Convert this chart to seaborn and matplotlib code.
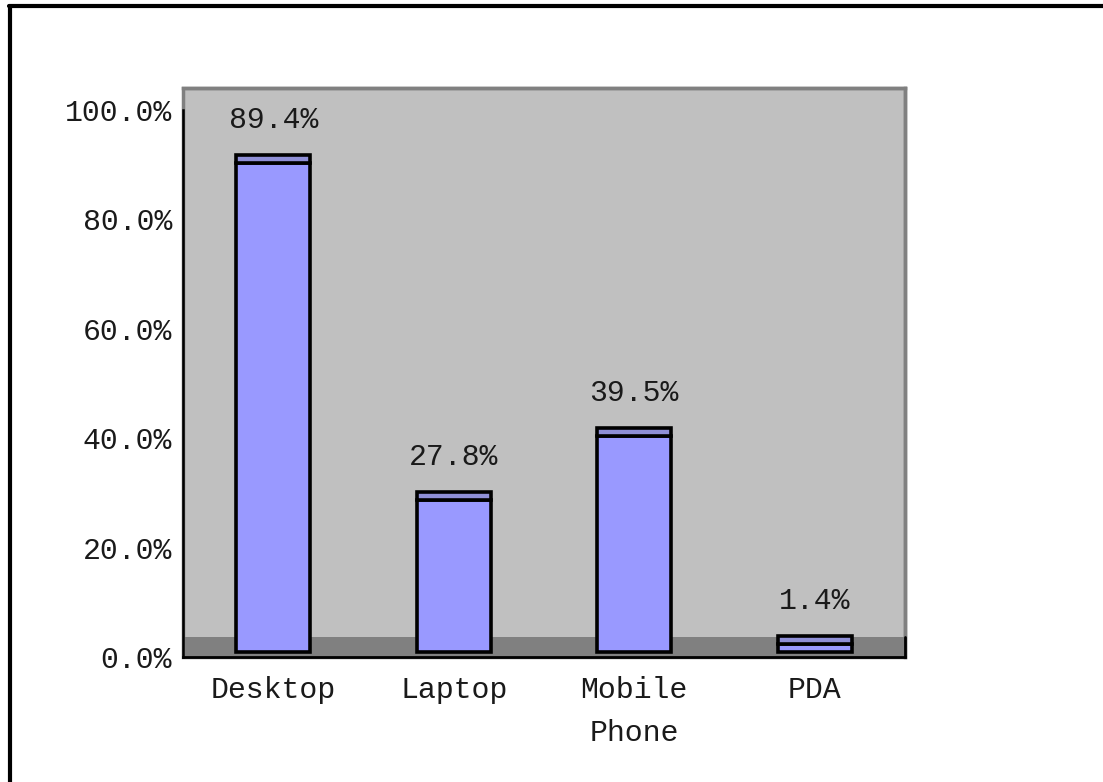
import matplotlib
matplotlib.use("Agg")
import matplotlib.pyplot as plt
from matplotlib.patches import Rectangle
from matplotlib.lines import Line2D
from matplotlib.transforms import ScaledTranslation
import seaborn as sns
import pandas as pd

# Share of respondents using each device type
devices = ["Desktop", "Laptop", "Mobile\nPhone", "PDA"]
shares = [89.4, 27.8, 39.5, 1.4]
y_ticks = [0, 20, 40, 60, 80, 100]
y_tick_labels = ["0.0%", "20.0%", "40.0%", "60.0%", "80.0%", "100.0%"]

sns.set_style("white")
plt.rcParams["font.family"] = ["Liberation Mono", "DejaVu Sans Mono"]

WALL = "#C0C0C0"
FLOOR = "#808080"
BAR = "#9999FF"
CAP = "#8F8FD6"
TEXT = "#1a1a1a"
FLOOR_DEPTH = 3.6
CAP_DEPTH = 1.5
FS = 21.5

df = pd.DataFrame({"device": devices, "share": shares})

fig = plt.figure(figsize=(11.03, 7.82), dpi=100)
ax = fig.add_axes([183 / 1103, 1 - 657 / 782, 722 / 1103, 569 / 782])
ax.set_facecolor(WALL)

sns.barplot(data=df, x="device", y="share", ax=ax, color=BAR, width=0.41,
            edgecolor="black", linewidth=2.6, saturation=1, zorder=2)
bars = list(ax.containers[0].patches)

# Floor band along the bottom of the wall
ax.axhspan(0, FLOOR_DEPTH, color=FLOOR, zorder=0.5, lw=0)

# Lift bars slightly so they sit in the middle of the floor depth
lift = ScaledTranslation(0, 5 / 100, fig.dpi_scale_trans)
for p, val in zip(bars, shares):
    p.set_transform(ax.transData + lift)
    cap = Rectangle((p.get_x(), val), p.get_width(), CAP_DEPTH,
                    facecolor=CAP, edgecolor="black", linewidth=2.6,
                    transform=ax.transData + lift, zorder=3)
    ax.add_patch(cap)
    ax.annotate(f"{val:.1f}%", (p.get_x() + p.get_width() / 2, val + CAP_DEPTH),
                xycoords=ax.transData + lift, xytext=(0, 25),
                textcoords="offset points", ha="center", va="center",
                fontsize=FS, color=TEXT, zorder=4)

ax.set_xlim(-0.5, 3.5)
ax.set_ylim(0, 104)
ax.set_yticks(y_ticks)
ax.set_yticklabels(y_tick_labels)
ax.set_xlabel("")
ax.set_ylabel("")
ax.grid(False)

ax.tick_params(axis="y", direction="in", length=6, width=1.5, color="black",
               labelsize=FS, pad=8, labelcolor=TEXT)
ax.tick_params(axis="x", which="major", length=0, labelsize=FS, pad=14,
               labelcolor=TEXT)
ax.set_xticks([0.5, 1.5, 2.5], minor=True)
ax.tick_params(axis="x", which="minor", direction="in", length=7, width=1.5,
               color="black")
for lbl in ax.get_xticklabels():
    lbl.set_linespacing(1.65)

for side in ["top", "right"]:
    ax.spines[side].set_color(FLOOR)
    ax.spines[side].set_linewidth(2.5)
ax.spines["left"].set_color("black")
ax.spines["left"].set_linewidth(1.8)
ax.spines["left"].set_bounds(0, 100)
ax.spines["bottom"].set_color("black")
ax.spines["bottom"].set_linewidth(2)

# Grey outline of the wall above the value axis
ax.add_patch(Rectangle((0, 0), 1, 1, transform=ax.transAxes, fill=False,
                       edgecolor=FLOOR, linewidth=2.5, zorder=0.6,
                       clip_on=False))
# Dark edge on the right side of the floor
ax.plot([1, 1], [0, FLOOR_DEPTH / 104], transform=ax.transAxes, color="black",
        lw=2, clip_on=False, zorder=5)

# Chart frame
fig.add_artist(Line2D([9 / 1103, 1], [1 - 6 / 782, 1 - 6 / 782],
                      transform=fig.transFigure, color="black", lw=3))
fig.add_artist(Line2D([10 / 1103, 10 / 1103], [0, 1 - 6 / 782],
                      transform=fig.transFigure, color="black", lw=3))

fig.savefig("out.png", dpi=100, facecolor="white")
